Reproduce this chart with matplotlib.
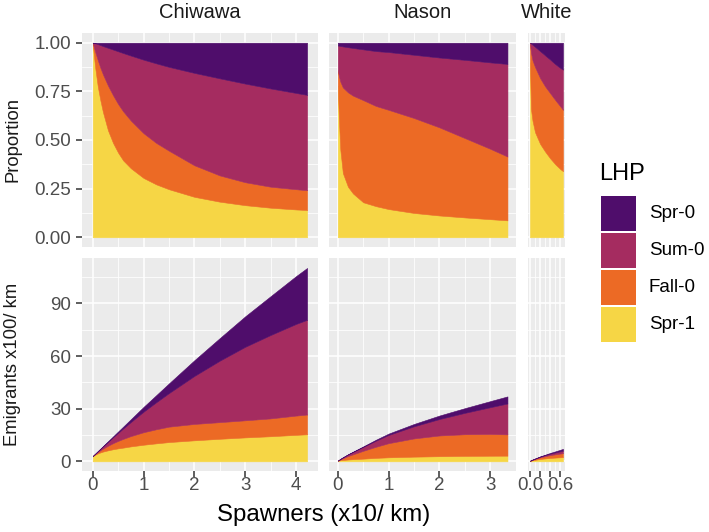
import matplotlib
matplotlib.use('Agg')
import matplotlib.pyplot as plt
from matplotlib.patches import Rectangle
from matplotlib.ticker import FixedLocator

# life history pathways, stacking order bottom -> top
lhp = ['Spr-1', 'Fall-0', 'Sum-0', 'Spr-0']
lhp_colors = {'Spr-0': '#4F0D6B', 'Sum-0': '#A52C60', 'Fall-0': '#EC6A25', 'Spr-1': '#F6D645'}

sites = ['Chiwawa', 'Nason', 'White']

# ---- Chiwawa ----
chiwawa_x = [0, 0.025, 0.05, 0.1, 0.15, 0.2, 0.3, 0.4, 0.5, 0.6, 0.75, 1.0, 1.25, 1.5, 2.0, 2.5, 3.0, 3.5, 4.0, 4.22]
chiwawa_prop_spr1 = [1.0, 0.93, 0.87, 0.775, 0.705, 0.645, 0.55, 0.485, 0.435, 0.395, 0.355, 0.305, 0.272, 0.247, 0.208, 0.183, 0.165, 0.152, 0.143, 0.14]
chiwawa_prop_fall0 = [0, 0.045, 0.082, 0.135, 0.167, 0.193, 0.23, 0.245, 0.25, 0.252, 0.245, 0.23, 0.213, 0.198, 0.162, 0.135, 0.118, 0.108, 0.104, 0.102]
chiwawa_prop_sum0 = [0, 0.024, 0.045, 0.083, 0.116, 0.145, 0.194, 0.235, 0.271, 0.30, 0.334, 0.378, 0.409, 0.431, 0.475, 0.499, 0.507, 0.505, 0.495, 0.49]
chiwawa_prop_spr0 = [0, 0.001, 0.003, 0.007, 0.012, 0.017, 0.026, 0.035, 0.044, 0.053, 0.066, 0.087, 0.106, 0.124, 0.155, 0.183, 0.21, 0.235, 0.258, 0.268]
chiwawa_emig_spr1 = [3.0, 3.44, 3.83, 4.50, 5.08, 5.55, 6.27, 6.89, 7.40, 7.82, 8.52, 9.46, 10.25, 10.97, 11.98, 12.85, 13.63, 14.30, 15.09, 15.43]
chiwawa_emig_fall0 = [0, 0.17, 0.36, 0.78, 1.20, 1.66, 2.62, 3.48, 4.25, 4.99, 5.88, 7.13, 8.03, 8.79, 9.33, 9.48, 9.75, 10.16, 10.97, 11.24]
chiwawa_emig_sum0 = [0, 0.09, 0.20, 0.48, 0.84, 1.25, 2.21, 3.34, 4.61, 5.94, 8.02, 11.72, 15.42, 19.14, 27.36, 35.03, 41.88, 47.52, 52.22, 54.0]
chiwawa_emig_spr0 = [0, 0.0, 0.01, 0.04, 0.09, 0.15, 0.30, 0.50, 0.75, 1.05, 1.58, 2.70, 4.0, 5.51, 8.93, 12.85, 17.35, 22.11, 27.22, 29.53]

# ---- Nason ----
nason_x = [0, 0.02, 0.05, 0.1, 0.2, 0.3, 0.5, 0.75, 1.0, 1.5, 2.0, 2.5, 3.0, 3.34]
nason_prop_spr1 = [0.78, 0.62, 0.45, 0.33, 0.26, 0.225, 0.18, 0.16, 0.145, 0.125, 0.112, 0.102, 0.093, 0.087]
nason_prop_fall0 = [0.08, 0.21, 0.35, 0.44, 0.485, 0.503, 0.525, 0.515, 0.51, 0.488, 0.453, 0.408, 0.362, 0.328]
nason_prop_sum0 = [0.126, 0.155, 0.183, 0.211, 0.232, 0.245, 0.261, 0.282, 0.297, 0.325, 0.359, 0.402, 0.444, 0.476]
nason_prop_spr0 = [0.014, 0.015, 0.017, 0.019, 0.023, 0.027, 0.034, 0.043, 0.048, 0.062, 0.076, 0.088, 0.101, 0.109]
nason_emig_spr1 = [0.31, 0.50, 0.63, 0.76, 1.04, 1.24, 1.53, 1.97, 2.29, 2.66, 2.92, 3.09, 3.19, 3.22]
nason_emig_fall0 = [0.03, 0.17, 0.49, 1.01, 1.94, 2.77, 4.46, 6.33, 8.06, 10.39, 11.82, 12.36, 12.42, 12.14]
nason_emig_sum0 = [0.05, 0.12, 0.26, 0.49, 0.93, 1.35, 2.22, 3.47, 4.69, 6.92, 9.37, 12.18, 15.23, 17.61]
nason_emig_spr0 = [0.01, 0.01, 0.02, 0.04, 0.09, 0.15, 0.29, 0.53, 0.76, 1.32, 1.98, 2.67, 3.46, 4.03]

# ---- White ----
white_x = [0, 0.02, 0.05, 0.1, 0.2, 0.3, 0.4, 0.5, 0.6, 0.65]
white_prop_spr1 = [0.90, 0.66, 0.60, 0.54, 0.48, 0.44, 0.405, 0.375, 0.35, 0.34]
white_prop_fall0 = [0.10, 0.29, 0.31, 0.335, 0.338, 0.335, 0.335, 0.33, 0.322, 0.315]
white_prop_sum0 = [0, 0.046, 0.08, 0.104, 0.139, 0.16, 0.173, 0.185, 0.198, 0.207]
white_prop_spr0 = [0, 0.004, 0.01, 0.021, 0.043, 0.065, 0.087, 0.11, 0.13, 0.138]
white_emig_spr1 = [0.27, 0.40, 0.60, 0.86, 1.34, 1.67, 1.94, 2.14, 2.31, 2.41]
white_emig_fall0 = [0.03, 0.17, 0.31, 0.54, 0.95, 1.27, 1.61, 1.88, 2.13, 2.24]
white_emig_sum0 = [0, 0.03, 0.08, 0.17, 0.39, 0.61, 0.83, 1.05, 1.31, 1.47]
white_emig_spr0 = [0, 0.0, 0.01, 0.03, 0.12, 0.25, 0.42, 0.63, 0.86, 0.98]

x_ticks = {'Chiwawa': [0, 1, 2, 3, 4], 'Nason': [0, 1, 2, 3], 'White': [0, 0.2, 0.4, 0.6]}
x_tick_labels = {'Chiwawa': ['0', '1', '2', '3', '4'], 'Nason': ['0', '1', '2', '3'], 'White': ['0.0', '', '', '0.6']}
x_minor = {'Chiwawa': [0.5, 1.5, 2.5, 3.5], 'Nason': [0.5, 1.5, 2.5, 3.5], 'White': [0.1, 0.3, 0.5]}

prop_ticks = [0, 0.25, 0.5, 0.75, 1.0]
prop_labels = ['0.00', '0.25', '0.50', '0.75', '1.00']
emig_ticks = [0, 30, 60, 90]

W, H = 709, 532
TICK_GRAY = '#333333'
LABEL_GRAY = '#4D4D4D'
FONT = ['Liberation Sans', 'DejaVu Sans']


def box(left, top, width, height):
    return [left / W, 1 - (top + height) / H, width / W, height / H]


def fig_text(fig, x, y, s, **kw):
    fig.text(x / W, 1 - y / H, s, **kw)


def get_data():
    data = {}
    data['Chiwawa'] = (chiwawa_x,
                       [chiwawa_prop_spr1, chiwawa_prop_fall0, chiwawa_prop_sum0, chiwawa_prop_spr0],
                       [chiwawa_emig_spr1, chiwawa_emig_fall0, chiwawa_emig_sum0, chiwawa_emig_spr0])
    data['Nason'] = (nason_x,
                     [nason_prop_spr1, nason_prop_fall0, nason_prop_sum0, nason_prop_spr0],
                     [nason_emig_spr1, nason_emig_fall0, nason_emig_sum0, nason_emig_spr0])
    data['White'] = (white_x,
                     [white_prop_spr1, white_prop_fall0, white_prop_sum0, white_prop_spr0],
                     [white_emig_spr1, white_emig_fall0, white_emig_sum0, white_emig_spr0])
    return data


def stack(ax, xs, layers):
    base = [0.0] * len(xs)
    for name, vals in zip(lhp, layers):
        top = [b + v for b, v in zip(base, vals)]
        c = lhp_colors[name]
        ax.fill_between(xs, base, top, facecolor=c, edgecolor=c, linewidth=0.4, zorder=2)
        base = top
    return base


def style_panel(ax):
    ax.set_facecolor('#EBEBEB')
    for sp in ax.spines.values():
        sp.set_visible(False)
    ax.grid(which='major', color='white', linewidth=1.1, zorder=0)
    ax.grid(which='minor', color='white', linewidth=0.55, zorder=0)
    ax.set_axisbelow(True)
    ax.tick_params(which='major', length=4, width=1.1, color=TICK_GRAY,
                   labelcolor=LABEL_GRAY, labelsize=13.5)
    ax.tick_params(axis='x', pad=0.5)
    ax.tick_params(axis='y', pad=4)
    ax.tick_params(which='minor', length=0)


def plot(data):
    plt.rcParams['font.family'] = FONT
    fig = plt.figure(figsize=(W / 100, H / 100), dpi=100)

    px_per_unit = 50.8
    lefts = {'Chiwawa': 82, 'Nason': 329.3, 'White': 528.3}
    top_row = (33, 214)
    bot_row = (258.3, 212.7)
    emig_max = 110.2

    for i, site in enumerate(sites):
        xs, props, emigs = data[site]
        xmax = xs[-1]
        xlim = (-0.05 * xmax, 1.05 * xmax)
        width = (xlim[1] - xlim[0]) * px_per_unit

        ax1 = fig.add_axes(box(lefts[site], top_row[0], width, top_row[1]))
        ax2 = fig.add_axes(box(lefts[site], bot_row[0], width, bot_row[1]))
        stack(ax1, xs, props)
        stack(ax2, xs, emigs)

        for ax in (ax1, ax2):
            style_panel(ax)
            ax.set_xlim(*xlim)
            ax.xaxis.set_major_locator(FixedLocator(x_ticks[site]))
            ax.xaxis.set_minor_locator(FixedLocator(x_minor[site]))
        ax1.set_ylim(-0.05, 1.05)
        ax1.yaxis.set_major_locator(FixedLocator(prop_ticks))
        ax1.yaxis.set_minor_locator(FixedLocator([0.125, 0.375, 0.625, 0.875]))
        ax2.set_ylim(-0.05 * emig_max, 1.05 * emig_max)
        ax2.yaxis.set_major_locator(FixedLocator(emig_ticks))
        ax2.yaxis.set_minor_locator(FixedLocator([15, 45, 75, 105]))

        ax1.tick_params(axis='x', bottom=False, labelbottom=False)
        ax2.set_xticklabels(x_tick_labels[site])
        if i == 0:
            ax1.set_yticklabels(prop_labels)
            ax2.set_yticklabels([str(t) for t in emig_ticks])
        else:
            ax1.tick_params(axis='y', left=False, labelleft=False)
            ax2.tick_params(axis='y', left=False, labelleft=False)

        # facet strip label
        fig_text(fig, lefts[site] + width / 2, 12, site, ha='center', va='center',
                 fontsize=14.5, color='#1A1A1A')

    fig_text(fig, 13, 140, 'Proportion', rotation=90, ha='center', va='center',
             fontsize=13.3, color='#1A1A1A')
    fig_text(fig, 13, 364.5, 'Emigrants x100/ km', rotation=90, ha='center', va='center',
             fontsize=13.3, color='#1A1A1A')
    fig_text(fig, 323.5, 515, 'Spawners (x10/ km)', ha='center', va='center',
             fontsize=17.3, color='black')

    # legend
    fig_text(fig, 599, 174, 'LHP', ha='left', va='center', fontsize=17, color='black')
    key_top = 196
    for name in ['Spr-0', 'Sum-0', 'Fall-0', 'Spr-1']:
        fig.add_artist(Rectangle((601 / W, 1 - (key_top + 35) / H), 35 / W, 35 / H,
                                 transform=fig.transFigure, facecolor=lhp_colors[name],
                                 edgecolor='none'))
        fig_text(fig, 649, key_top + 17.5, name, ha='left', va='center',
                 fontsize=13.5, color='black')
        key_top += 37

    fig.savefig('out.png', dpi=100)


def main():
    data = get_data()
    plot(data)


if __name__ == '__main__':
    main()
